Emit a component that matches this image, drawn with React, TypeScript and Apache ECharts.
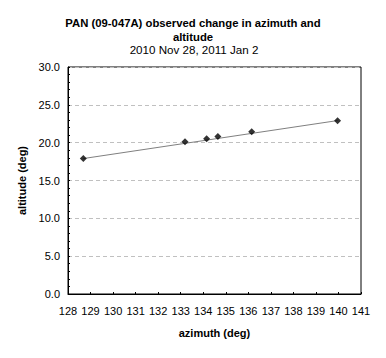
import React, { useEffect, useRef } from "react";
import * as echarts from "echarts";

const observedPoints: [number, number][] = [
  [128.68, 17.9],
  [133.19, 20.12],
  [134.15, 20.52],
  [134.65, 20.83],
  [136.15, 21.44],
  [139.96, 22.9],
];
const trendPoints: [number, number][] = [
  [128.68, 17.9],
  [139.96, 22.92],
];
const titleLine1 = "PAN (09-047A) observed change in azimuth and";
const titleLine2 = "altitude";
const subtitleText = "2010 Nov 28, 2011 Jan 2";
const xName = "azimuth (deg)";
const yName = "altitude (deg)";

const FONT = "'Liberation Sans', Arial, sans-serif";

export default function App() {
  const ref = useRef<HTMLDivElement>(null);
  useEffect(() => {
    if (!ref.current) return;
    const chart = echarts.init(ref.current, null, { renderer: "svg" });
    const boldTitle = { fontFamily: FONT, fontSize: 11.3, fontWeight: "bold", color: "#000", lineHeight: 12 };
    chart.setOption({
      animation: false,
      backgroundColor: "#ffffff",
      title: [
        { text: titleLine1, left: 193, textAlign: "center", top: 17, padding: 0, textStyle: boldTitle },
        { text: titleLine2, left: 193, textAlign: "center", top: 31, padding: 0, textStyle: boldTitle },
        {
          text: subtitleText,
          left: 194,
          textAlign: "center",
          top: 43,
          padding: 0,
          textStyle: { fontFamily: FONT, fontSize: 11.6, fontWeight: "normal", color: "#000", lineHeight: 12 },
        },
      ],
      grid: {
        left: 68,
        right: 25,
        top: 67,
        bottom: 64,
        show: true,
        borderColor: "#000",
        borderWidth: 1,
        backgroundColor: "#fff",
      },
      xAxis: {
        type: "value",
        min: 128,
        max: 141,
        interval: 1,
        name: xName,
        nameLocation: "middle",
        nameGap: 33,
        nameTextStyle: { fontFamily: FONT, fontSize: 11, fontWeight: "bold", color: "#000" },
        axisLine: { show: true, lineStyle: { color: "#000", width: 1 } },
        axisTick: { show: true, inside: true, length: 2, lineStyle: { color: "#000" } },
        axisLabel: { fontFamily: FONT, fontSize: 11, color: "#000", margin: 11 },
        splitLine: { show: false },
      },
      yAxis: {
        type: "value",
        min: 0,
        max: 30,
        interval: 5,
        name: yName,
        nameLocation: "middle",
        nameGap: 38,
        nameTextStyle: { fontFamily: FONT, fontSize: 11, fontWeight: "bold", color: "#000" },
        axisLine: { show: true, lineStyle: { color: "#000", width: 1 } },
        axisTick: { show: true, inside: true, length: 2, lineStyle: { color: "#000" } },
        minorTick: { show: true, splitNumber: 5, length: 2, lineStyle: { color: "#000" } },
        axisLabel: {
          fontFamily: FONT,
          fontSize: 11,
          color: "#000",
          margin: 8,
          formatter: (v: number) => v.toFixed(1),
        },
        splitLine: { show: true, lineStyle: { color: "#c0c0c0", type: [4, 3], width: 1 } },
      },
      series: [
        {
          type: "line",
          data: trendPoints,
          symbol: "none",
          lineStyle: { color: "#808080", width: 1 },
          z: 2,
        },
        {
          type: "scatter",
          data: observedPoints,
          symbol: "diamond",
          symbolSize: 7,
          itemStyle: { color: "#000" },
          z: 3,
        },
      ],
    });
    return () => chart.dispose();
  }, []);
  return <div ref={ref} style={{ width: 386, height: 358, position: "absolute", left: 0, top: 0 }} />;
}
